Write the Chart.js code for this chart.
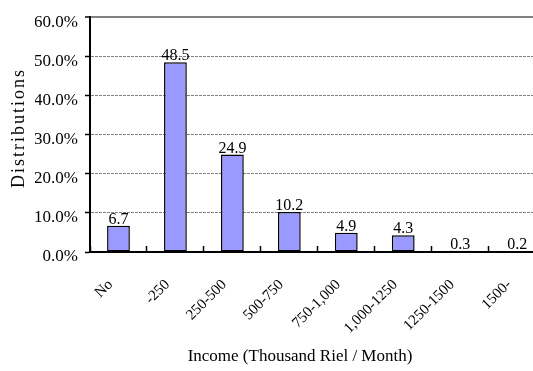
<!DOCTYPE html>
<html><head><meta charset="utf-8">
<script src="https://cdn.jsdelivr.net/npm/chart.js@4.4.1/dist/chart.umd.min.js"></script>
<style>
html,body{margin:0;padding:0;overflow:hidden;background:#fff;width:533px;height:371px}
#wrap{position:absolute;left:0;top:0;width:560px;height:371px}
</style>
</head><body><div id="wrap"><canvas id="c"></canvas></div>
<script>
const categories = ["No","-250","250-500","500-750","750-1,000","1,000-1250","1250-1500","1500-"];
const distribution = [6.7,48.5,24.9,10.2,4.9,4.3,0.3,0.2];
const yTicks = [0,10,20,30,40,50,60];
const yTickLabels = ["0.0%","10.0%","20.0%","30.0%","40.0%","50.0%","60.0%"];
const xTitle = "Income (Thousand Riel / Month)";
const yTitle = "Distributions";

const SERIF = '"Liberation Serif","Times New Roman",serif';

const annot = {
  id:'annot',
  afterDatasetsDraw(chart){
    const ctx = chart.ctx, meta = chart.getDatasetMeta(0);
    ctx.save();
    ctx.font = '16px ' + SERIF;
    ctx.fillStyle = '#000';
    ctx.textAlign = 'center';
    ctx.textBaseline = 'alphabetic';
    meta.data.forEach((bar,i)=>{ ctx.fillText(distribution[i].toFixed(1), bar.x, bar.y - 2); });
    ctx.restore();
  },
  afterDraw(chart){
    const ctx = chart.ctx;
    ctx.save();
    ctx.fillStyle = '#000';
    ctx.font = '17px ' + SERIF;
    ctx.textAlign = 'center';
    ctx.textBaseline = 'middle';
    ctx.fillText(xTitle, 300, 357);
    ctx.translate(19, 128);
    ctx.rotate(-Math.PI/2);
    ctx.font = '18px ' + SERIF;
    try { ctx.letterSpacing = '2px'; } catch(e) {}
    ctx.fillText(yTitle, 0, 0);
    ctx.restore();
  }
};

new Chart(document.getElementById('c'), {
  type:'bar',
  data:{
    labels: categories,
    datasets:[{
      data: distribution,
      backgroundColor:'#9999FF',
      borderColor:'#000',
      borderWidth:1.5,
      borderSkipped:false,
      barPercentage:0.4,
      categoryPercentage:1.0
    }]
  },
  options:{
    responsive:true,
    maintainAspectRatio:false,
    animation:false,
    layout:{padding:{left:35,top:8,right:2,bottom:0}},
    plugins:{legend:{display:false},tooltip:{enabled:false}},
    scales:{
      x:{
        offset:true,
        grid:{offset:true,drawOnChartArea:false,drawTicks:true,tickLength:-6,tickColor:'#000',tickWidth:1.5},
        border:{color:'#000',width:2},
        ticks:{color:'#000',font:{family:SERIF,size:15},minRotation:45,maxRotation:45,autoSkip:false,padding:30,labelOffset:-8},
        afterFit(s){ s.height = 119; }
      },
      y:{
        min:0,max:60,
        afterBuildTicks(s){ s.ticks = yTicks.map(v=>({value:v})); },
        ticks:{color:'#000',font:{family:SERIF,size:17},padding:7,labelOffset:5,callback:(v,i)=>yTickLabels[i]},
        grid:{
          color:c=> (c.tick && c.tick.value===0) ? 'rgba(0,0,0,0)' : '#808080',
          lineWidth:c=> (c.tick && c.tick.value===60) ? 2 : 1,
          tickColor:'#000',tickWidth:1.5,tickLength:5
        },
        border:{color:'#000',width:2,dash:c=> (c.type==='tick' && c.tick && c.tick.value!==60) ? [3,1] : []},
        afterFit(s){ s.width = 55; }
      }
    }
  },
  plugins:[annot]
});
</script>
</body></html>
